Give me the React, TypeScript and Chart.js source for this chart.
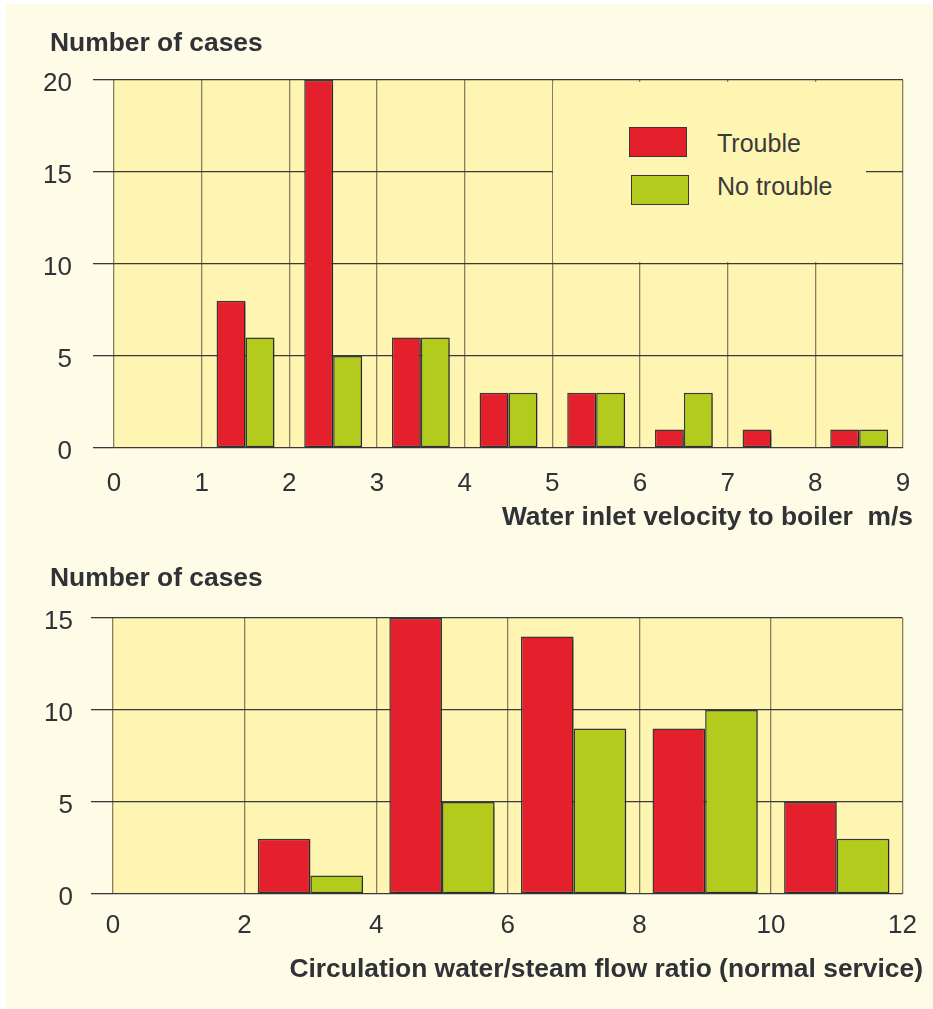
import React, { useEffect, useRef } from 'react';
import { Chart, registerables } from 'chart.js';

Chart.register(...registerables);

// ---------- data ----------
const seriesLabels = ['Trouble', 'No trouble'];

// Chart 1: water inlet velocity to boiler (m/s), bins of width 1
const velocityBinCenters = [1.5, 2.5, 3.5, 4.5, 5.5, 6.5, 7.5, 8.5];
const velocityTrouble = [8, 20, 6, 3, 3, 1, 1, 1];
const velocityNoTrouble: (number | null)[] = [6, 5, 6, 3, 3, 3, null, 1];
const velocityXTicks = [0, 1, 2, 3, 4, 5, 6, 7, 8, 9];
const velocityYTicks = [0, 5, 10, 15, 20];

// Chart 2: circulation water/steam flow ratio, bins of width 2
const ratioBinCenters = [3, 5, 7, 9, 11];
const ratioTrouble = [3, 15, 14, 9, 5];
const ratioNoTrouble: (number | null)[] = [1, 5, 9, 10, 3];
const ratioXTicks = [0, 2, 4, 6, 8, 10, 12];
const ratioYTicks = [0, 5, 10, 15];

const yTitle = 'Number of cases';
const velocityXTitle = 'Water inlet velocity to boiler\u00a0\u00a0m/s';
const ratioXTitle = 'Circulation water/steam flow ratio (normal service)';

// ---------- styles ----------
const RED = '#e4202c';
const GREEN = '#b2cb1c';
const BAR_BORDER = '#383838';
const PLOT_BG = '#fff5b2';
const PAGE_BG = '#fefbe6';
const TEXT = '#2f3236';
const V_GRID = '#857f62';
const H_GRID = '#3a3a3a';
const FONT = "'Liberation Sans', Arial, Helvetica, sans-serif";

const plotBgPlugin = {
  id: 'plotBg',
  beforeDraw(chart: any) {
    const { ctx, chartArea } = chart;
    ctx.save();
    ctx.fillStyle = PLOT_BG;
    ctx.fillRect(chartArea.left, chartArea.top, chartArea.right - chartArea.left, chartArea.bottom - chartArea.top);
    ctx.restore();
  },
};

const shadowPlugin = {
  id: 'barShadow',
  beforeDatasetsDraw(chart: any) {
    const ctx = chart.ctx;
    ctx.save();
    ctx.shadowColor = 'rgba(0,0,0,0.28)';
    ctx.shadowOffsetX = 1.5;
    ctx.shadowOffsetY = 1;
    ctx.shadowBlur = 1;
  },
  afterDatasetsDraw(chart: any) {
    chart.ctx.restore();
  },
};

function toPoints(centers: number[], values: (number | null)[]) {
  const pts: { x: number; y: number }[] = [];
  centers.forEach((x, i) => {
    const v = values[i];
    if (v !== null && v !== undefined) pts.push({ x, y: v });
  });
  return pts;
}

interface Cfg {
  centers: number[];
  trouble: (number | null)[];
  noTrouble: (number | null)[];
  xTicks: number[];
  yTicks: number[];
  width: number;
  height: number;
  areaLeft: number;
  areaTop: number;
  areaRight: number;
  areaBottom: number;
  catPct: number;
  xLabelPad: number;
  yTickLen: number;
  yLabelPad: number;
}

function makeConfig(c: Cfg): any {
  const dsCommon = {
    borderColor: BAR_BORDER,
    borderWidth: 1.5,
    borderSkipped: false,
    categoryPercentage: c.catPct,
    barPercentage: 1,
  };
  return {
    type: 'bar',
    data: {
      datasets: [
        { label: seriesLabels[0], data: toPoints(c.centers, c.trouble), backgroundColor: RED, ...dsCommon },
        { label: seriesLabels[1], data: toPoints(c.centers, c.noTrouble), backgroundColor: GREEN, ...dsCommon },
      ],
    },
    options: {
      animation: false,
      responsive: false,
      maintainAspectRatio: false,
      layout: { padding: { top: c.areaTop, right: c.width - c.areaRight, bottom: 0, left: 0 } },
      plugins: { legend: { display: false }, tooltip: { enabled: false }, title: { display: false } },
      scales: {
        x: {
          type: 'linear',
          min: c.xTicks[0],
          max: c.xTicks[c.xTicks.length - 1],
          offset: false,
          border: { display: false },
          grid: { offset: false, color: V_GRID, lineWidth: 1.3, drawTicks: false },
          afterBuildTicks(scale: any) {
            scale.ticks = c.xTicks.map((v) => ({ value: v }));
          },
          ticks: {
            autoSkip: false,
            maxRotation: 0,
            padding: c.xLabelPad,
            color: TEXT,
            font: { family: FONT, size: 26 },
          },
          afterFit(scale: any) {
            scale.height = c.height - c.areaBottom;
          },
        },
        y: {
          min: c.yTicks[0],
          max: c.yTicks[c.yTicks.length - 1],
          border: { display: false },
          grid: { color: H_GRID, lineWidth: 1.3, drawTicks: true, tickLength: c.yTickLen },
          afterBuildTicks(scale: any) {
            scale.ticks = c.yTicks.map((v) => ({ value: v }));
          },
          ticks: {
            autoSkip: false,
            padding: c.yLabelPad,
            labelOffset: 4,
            color: TEXT,
            font: { family: FONT, size: 26 },
          },
          afterFit(scale: any) {
            scale.width = c.areaLeft;
          },
        },
      },
    },
    plugins: [plotBgPlugin, shadowPlugin],
  };
}

function BarCanvas({ cfg, top }: { cfg: Cfg; top: number }) {
  const ref = useRef<HTMLCanvasElement | null>(null);
  useEffect(() => {
    if (!ref.current) return;
    const chart = new Chart(ref.current, makeConfig(cfg));
    return () => chart.destroy();
  }, [cfg]);
  return (
    <canvas
      ref={ref}
      width={cfg.width}
      height={cfg.height}
      style={{ position: 'absolute', left: 0, top, width: cfg.width, height: cfg.height, display: 'block' }}
    />
  );
}

const topCfg: Cfg = {
  centers: velocityBinCenters,
  trouble: velocityTrouble,
  noTrouble: velocityNoTrouble,
  xTicks: velocityXTicks,
  yTicks: velocityYTicks,
  width: 933,
  height: 540,
  areaLeft: 114,
  areaTop: 80,
  areaRight: 903,
  areaBottom: 448,
  catPct: 0.66,
  xLabelPad: 20,
  yTickLen: 21,
  yLabelPad: 21,
};

const bottomCfg: Cfg = {
  centers: ratioBinCenters,
  trouble: ratioTrouble,
  noTrouble: ratioNoTrouble,
  xTicks: ratioXTicks,
  yTicks: ratioYTicks,
  width: 933,
  height: 464,
  areaLeft: 113,
  areaTop: 73,
  areaRight: 905,
  areaBottom: 349,
  catPct: 0.8,
  xLabelPad: 16,
  yTickLen: 22,
  yLabelPad: 18,
};

const boldText: React.CSSProperties = {
  position: 'absolute',
  fontFamily: FONT,
  fontWeight: 'bold',
  fontSize: 26.4,
  lineHeight: '26px',
  color: TEXT,
  whiteSpace: 'nowrap',
};

const legendText: React.CSSProperties = {
  position: 'absolute',
  fontFamily: FONT,
  fontSize: 25,
  lineHeight: '25px',
  color: '#3a3a3a',
  whiteSpace: 'nowrap',
};

export default function App() {
  useEffect(() => {
    document.documentElement.style.background = PAGE_BG;
    document.body.style.margin = '0';
    document.body.style.background = PAGE_BG;
    document.body.style.overflow = 'hidden';
  }, []);
  return (
    <div style={{ position: 'absolute', left: 0, top: 0, width: 933, height: 1009, background: '#ffffff', overflow: 'hidden' }}>
      <div style={{ position: 'absolute', left: 6, top: 4, width: 927, height: 1005, background: PAGE_BG }} />
      <BarCanvas cfg={topCfg} top={0} />
      <BarCanvas cfg={bottomCfg} top={545} />

      <div style={{ ...boldText, left: 50, top: 29 }}>{yTitle}</div>
      <div style={{ ...boldText, right: 933 - 913, top: 503 }}>{velocityXTitle}</div>
      <div style={{ ...boldText, left: 50, top: 564 }}>{yTitle}</div>
      <div style={{ ...boldText, right: 933 - 923, top: 955 }}>{ratioXTitle}</div>

      {/* legend */}
      <div style={{ position: 'absolute', left: 553, top: 82, width: 313, height: 180, background: PLOT_BG }} />
      <div style={{ position: 'absolute', left: 629, top: 127, width: 58, height: 30, boxSizing: 'border-box', background: RED, border: `1.5px solid ${BAR_BORDER}` }} />
      <div style={{ position: 'absolute', left: 631, top: 175, width: 58, height: 30, boxSizing: 'border-box', background: GREEN, border: `1.5px solid ${BAR_BORDER}` }} />
      <div style={{ ...legendText, left: 717, top: 131 }}>{seriesLabels[0]}</div>
      <div style={{ ...legendText, left: 717, top: 174 }}>{seriesLabels[1]}</div>
    </div>
  );
}
